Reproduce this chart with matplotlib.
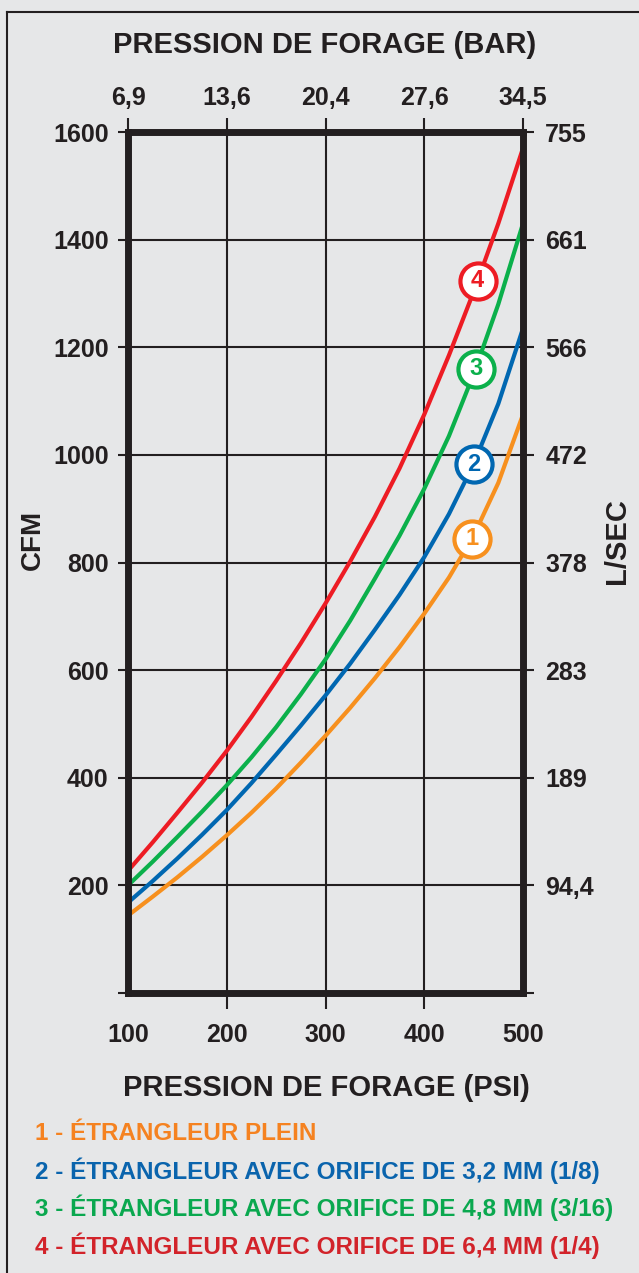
import numpy as np
import matplotlib.pyplot as plt
from matplotlib.lines import Line2D

plt.rcParams['font.family'] = ['Liberation Sans', 'DejaVu Sans']
plt.rcParams['font.weight'] = 'bold'

# Données (débit en CFM selon la pression en PSI)
PSI = [100, 125, 150, 175, 200, 225, 250, 275, 300, 325, 350, 375, 400, 425, 450, 475, 500]
CFM_PLEIN = [144, 179, 215, 253, 293, 335, 380, 428, 478, 530, 585, 643, 705, 772, 850, 948, 1075]
CFM_3_2MM = [168, 208, 250, 294, 340, 390, 443, 497, 553, 612, 675, 740, 810, 890, 983, 1095, 1235]
CFM_4_8MM = [200, 244, 290, 337, 386, 438, 494, 555, 620, 692, 770, 850, 937, 1035, 1150, 1280, 1430]
CFM_6_4MM = [227, 280, 335, 391, 450, 513, 580, 650, 724, 802, 885, 975, 1075, 1185, 1303, 1430, 1570]

PSI_TICKS = [100, 200, 300, 400, 500]
PSI_LABELS = ['100', '200', '300', '400', '500']
BAR_LABELS = ['6,9', '13,6', '20,4', '27,6', '34,5']
CFM_TICKS = [0, 200, 400, 600, 800, 1000, 1200, 1400, 1600]
CFM_LABELS = ['', '200', '400', '600', '800', '1000', '1200', '1400', '1600']
LSEC_LABELS = ['', '94,4', '189', '283', '378', '472', '566', '661', '755']

LEGENDES = [
    '1 - ÉTRANGLEUR PLEIN',
    '2 - ÉTRANGLEUR AVEC ORIFICE DE 3,2 MM (1/8)',
    '3 - ÉTRANGLEUR AVEC ORIFICE DE 4,8 MM (3/16)',
    '4 - ÉTRANGLEUR AVEC ORIFICE DE 6,4 MM (1/4)',
]
NUMEROS = ['1', '2', '3', '4']
PSI_CERCLES = [448, 450, 452, 454]

COULEURS = ['#f7901e', '#0067b1', '#0bb04b', '#ed1c24']
COULEURS_TEXTE = ['#f58220', '#0a64ad', '#0aa84f', '#d2232a']
FOND = '#e6e7e8'
NOIR = '#231f20'

W, H = 639, 1273
fig = plt.figure(figsize=(W / 100, H / 100), dpi=100, facecolor=FOND)
ax = fig.add_axes([128 / W, 1 - 993 / H, 395 / W, 861 / H])
ax.set_facecolor(FOND)

series = [CFM_PLEIN, CFM_3_2MM, CFM_4_8MM, CFM_6_4MM]
for vals, c in zip(series, COULEURS):
    ax.plot(PSI, vals, color=c, lw=3.0, solid_joinstyle='round', zorder=3)

# pastilles numérotées sur les courbes
for vals, c, ct, num, xp in zip(series, COULEURS, COULEURS_TEXTE, NUMEROS, PSI_CERCLES):
    yp = np.interp(xp, PSI, vals)
    ax.plot(xp, yp, 'o', ms=26, mfc='white', mec=c, mew=3, zorder=6)
    ax.text(xp, yp, num, ha='center', va='center', color=c, fontsize=17,
            fontweight='bold', zorder=7)

ax.set_xlim(100, 500)
ax.set_ylim(0, 1600)
ax.set_xticks(PSI_TICKS, labels=PSI_LABELS)
ax.set_yticks(CFM_TICKS, labels=CFM_LABELS)
ax.grid(True, color=NOIR, lw=1.5, zorder=1)
ax.set_axisbelow(True)

for s in ax.spines.values():
    s.set_linewidth(5)
    s.set_color(NOIR)
    s.set_zorder(10)
    s.set_capstyle('projecting')

ax.tick_params(axis='y', direction='out', length=7, width=1.5, color=NOIR,
               labelsize=18, pad=7, labelcolor=NOIR)
ax.tick_params(axis='x', direction='out', length=11.5, width=1.5, color=NOIR,
               labelsize=18, pad=10, labelcolor=NOIR)
for i in (0, 4):
    ax.xaxis.get_major_ticks()[i].tick1line.set_visible(False)

# axe du haut en bar
secx = ax.secondary_xaxis('top')
secx.set_xticks(PSI_TICKS, labels=BAR_LABELS)
secx.tick_params(direction='out', length=10, width=1.5, color=NOIR,
                 labelsize=18, pad=6, labelcolor=NOIR)
secx.spines['top'].set_visible(False)

# axe de droite en L/s
secy = ax.secondary_yaxis('right')
secy.set_yticks(CFM_TICKS, labels=LSEC_LABELS)
secy.tick_params(direction='out', length=8, width=1.5, color=NOIR,
                 labelsize=18, pad=8, labelcolor=NOIR)
secy.spines['right'].set_visible(False)

fig.text(325 / W, 1 - 45 / H, 'PRESSION DE FORAGE (BAR)', ha='center', va='center',
         fontsize=21, color=NOIR)
fig.text(326 / W, 1 - 1088 / H, 'PRESSION DE FORAGE (PSI)', ha='center', va='center',
         fontsize=21, color=NOIR)
fig.text(33 / W, 1 - 540 / H, 'CFM', rotation=90, ha='center', va='center',
         fontsize=20, color=NOIR)
fig.text(617 / W, 1 - 541 / H, 'L/SEC', rotation=90, ha='center', va='center',
         fontsize=21, color=NOIR)

for i, (txt, c) in enumerate(zip(LEGENDES, COULEURS_TEXTE)):
    fig.text(35 / W, 1 - (1133 + 37.6 * i) / H, txt, ha='left', va='center',
             fontsize=17.5, color=c)

# cadre extérieur (gauche et haut)
fig.add_artist(Line2D([7 / W, 7 / W], [0, 1 - 12 / H], transform=fig.transFigure,
                      color=NOIR, lw=1.5))
fig.add_artist(Line2D([7 / W, 1], [1 - 12 / H, 1 - 12 / H], transform=fig.transFigure,
                      color=NOIR, lw=1.5))

fig.savefig('out.png', dpi=100, facecolor=FOND)
